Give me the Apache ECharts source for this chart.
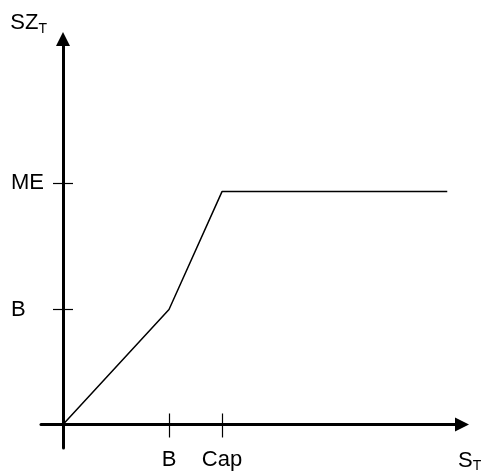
<!DOCTYPE html>
<html>
<head>
<meta charset="utf-8">
<script src="https://cdn.jsdelivr.net/npm/echarts@6/dist/echarts.min.js"></script>
<style>
  html, body { margin: 0; padding: 0; background: #fff; }
  #main { width: 484px; height: 473px; }
</style>
</head>
<body>
<div id="main"></div>
<script>
// 数据
var curveX = [0, 2, 3, 7.25];
var curveY = [0, 2, 4.05, 4.05];
var xTickValues = [2, 3];
var xTickLabels = ["B", "Cap"];
var yTickValues = [2, 4.2];
var yTickLabels = ["B", "ME"];

var font = "Liberation Sans, Arial, sans-serif";

function labelOf(values, labels) {
  return function (v) {
    for (var i = 0; i < values.length; i++) {
      if (Math.abs(values[i] - v) < 1e-6) return labels[i];
    }
    return "";
  };
}

var points = [];
for (var i = 0; i < curveX.length; i++) {
  points.push([curveX[i], curveY[i]]);
}

var axisLineStyle = { color: "#000", width: 3 };
var tickStyle = { color: "#000", width: 1.2 };

var myChart = echarts.init(document.getElementById("main"));

var option = {
  animation: false,
  grid: { left: 41, right: 22, top: 39, bottom: 25, containLabel: false, outerBoundsMode: "none" },
  xAxis: [
    {
      type: "value",
      position: "bottom",
      min: -0.415,
      max: 7.528,
      name: "S{sub|T}",
      nameLocation: "end",
      nameGap: -4,
      nameTextStyle: {
        color: "#000",
        fontSize: 22,
        fontFamily: font,
        verticalAlign: "top",
        padding: [23, 0, 0, 0],
        rich: { sub: { fontSize: 14, fontFamily: font, color: "#000", padding: [12, 0, 0, 0] } },
      },
      axisLine: { onZero: true, lineStyle: axisLineStyle, symbol: ["none", "triangle"], symbolSize: [14, 14] },
      axisTick: { show: true, length: 13, lineStyle: tickStyle, customValues: xTickValues },
      axisLabel: {
        color: "#000",
        fontSize: 22,
        fontFamily: font,
        margin: 1,
        customValues: xTickValues,
        formatter: labelOf(xTickValues, xTickLabels),
      },
      splitLine: { show: false },
    },
    {
      type: "value",
      position: "top",
      min: -0.415,
      max: 7.528,
      axisLine: { show: false, onZero: true },
      axisTick: { show: true, length: 11, lineStyle: tickStyle, customValues: xTickValues },
      axisLabel: { show: false },
      splitLine: { show: false },
    },
  ],
  yAxis: [
    {
      type: "value",
      position: "left",
      min: -0.409,
      max: 6.704,
      name: "SZ{sub|T}",
      nameLocation: "end",
      nameGap: 3,
      nameTextStyle: {
        color: "#000",
        fontSize: 22,
        fontFamily: font,
        align: "right",
        padding: [0, 16, 0, 0],
        rich: { sub: { fontSize: 14, fontFamily: font, color: "#000", padding: [12, 0, 0, 0] } },
      },
      axisLine: { onZero: true, lineStyle: axisLineStyle, symbol: ["none", "triangle"], symbolSize: [14, 14] },
      axisTick: { show: true, length: 10, lineStyle: tickStyle, customValues: yTickValues },
      axisLabel: {
        color: "#000",
        fontSize: 22,
        fontFamily: font,
        align: "left",
        margin: 30,
        customValues: yTickValues,
        formatter: labelOf(yTickValues, yTickLabels),
      },
      splitLine: { show: false },
    },
    {
      type: "value",
      position: "right",
      min: -0.409,
      max: 6.704,
      axisLine: { show: false, onZero: true },
      axisTick: { show: true, length: 10, lineStyle: tickStyle, customValues: yTickValues },
      axisLabel: { show: false },
      splitLine: { show: false },
    },
  ],
  series: [
    {
      type: "line",
      xAxisIndex: 0,
      yAxisIndex: 0,
      data: points,
      symbol: "none",
      lineStyle: { color: "#000", width: 1.5 },
      z: 1,
    },
  ],
};

myChart.setOption(option);
</script>
</body>
</html>
